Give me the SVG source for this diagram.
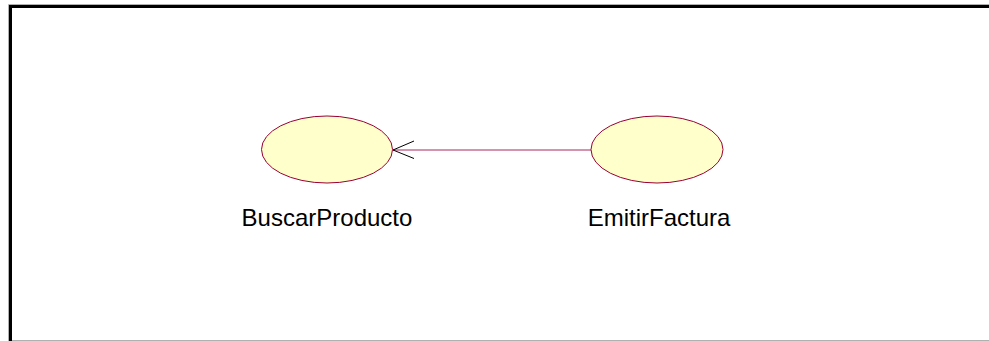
<svg xmlns="http://www.w3.org/2000/svg" width="989" height="341" viewBox="0 0 989 341">
<style>
.uc{fill:#FFFFCC;stroke:#990033;stroke-width:1}
.lbl{font-family:"Liberation Sans",Arial,sans-serif;font-size:24px;fill:#000;text-anchor:middle}
.conn{stroke:#A8285A;stroke-width:1;fill:none}
.head{stroke:#000;stroke-width:1;fill:none}
</style>
<rect x="0" y="0" width="989" height="341" fill="#fff"/>
<g id="frame">
<path d="M8.5,341 V4.5 H989" fill="none" stroke="#b0b0b0" stroke-width="1"/>
<path d="M8.5,340.5 H989" fill="none" stroke="#b0b0b0" stroke-width="1"/>
<path d="M10.5,341 V6.5 H989" fill="none" stroke="#000" stroke-width="3"/>
</g>
<g id="connectors">
<line class="conn" x1="591" y1="150" x2="393" y2="150"/>
<path class="head" d="M414,141 L393,150 L414,158.5"/>
</g>
<g id="BuscarProducto">
<ellipse class="uc" cx="327" cy="149.5" rx="65.5" ry="33.5"/>
<text class="lbl" x="327" y="226">BuscarProducto</text>
</g>
<g id="EmitirFactura">
<ellipse class="uc" cx="657" cy="149.5" rx="66" ry="33.5"/>
<text class="lbl" x="659" y="226">EmitirFactura</text>
</g>
</svg>
